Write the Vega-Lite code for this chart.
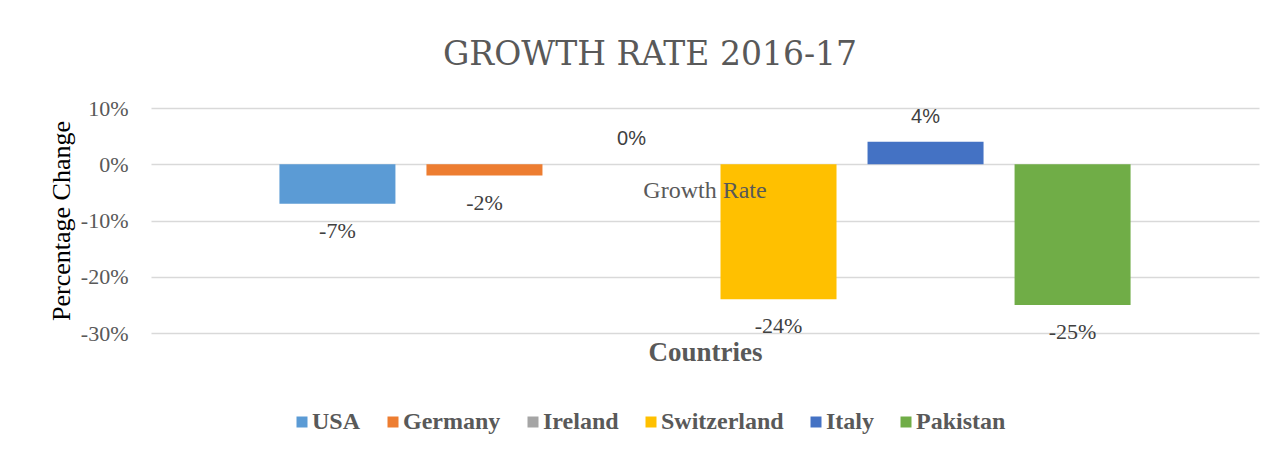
{
  "$schema": "https://vega.github.io/schema/vega-lite/v6.json",
  "autosize": "none",
  "padding": {"left": 151, "top": 108, "right": 28, "bottom": 122},
  "width": 1108,
  "height": 225,
  "background": "white",
  "title": {
    "text": "GROWTH RATE 2016-17",
    "font": "DejaVu Serif",
    "fontSize": 33,
    "fontWeight": "normal",
    "color": "#595959",
    "anchor": "middle",
    "frame": "group",
    "dx": -55,
    "offset": 25
  },
  "datasets": {
    "rates": [
      {"series": "Growth Rate", "country": "USA", "rate": -0.07},
      {"series": "Growth Rate", "country": "Germany", "rate": -0.02},
      {"series": "Growth Rate", "country": "Ireland", "rate": 0.0},
      {"series": "Growth Rate", "country": "Switzerland", "rate": -0.24},
      {"series": "Growth Rate", "country": "Italy", "rate": 0.04},
      {"series": "Growth Rate", "country": "Pakistan", "rate": -0.25}
    ],
    "cats": [
      {"series": "Growth Rate", "rate": 0}
    ]
  },
  "encoding": {
    "x": {
      "field": "series",
      "type": "nominal",
      "scale": {"paddingOuter": 0.128, "paddingInner": 0},
      "axis": {
        "labels": false,
        "ticks": false,
        "domain": false,
        "title": "Countries",
        "titleFont": "Liberation Serif",
        "titleFontSize": 27,
        "titleFontWeight": "bold",
        "titleColor": "#595959",
        "titlePadding": 6
      }
    },
    "y": {
      "field": "rate",
      "type": "quantitative",
      "scale": {"domain": [-0.3, 0.1], "nice": false, "zero": true},
      "axis": {
        "values": [-0.3, -0.2, -0.1, 0, 0.1],
        "format": ".0%",
        "labelExpr": "replace(datum.label, '\u2212', '-')",
        "grid": true,
        "gridColor": "#D9D9D9",
        "gridWidth": 1.5,
        "domain": false,
        "ticks": false,
        "labelFont": "Liberation Serif",
        "labelFontSize": 22,
        "labelColor": "#595959",
        "labelPadding": 23,
        "title": "Percentage Change",
        "titleFont": "Liberation Serif",
        "titleFontSize": 26,
        "titleFontWeight": "normal",
        "titleColor": "#000000",
        "titlePadding": 6
      }
    }
  },
  "layer": [
    {
      "data": {"name": "rates"},
      "mark": {"type": "bar"},
      "encoding": {
        "xOffset": {
          "field": "country",
          "type": "nominal",
          "sort": ["USA", "Germany", "Ireland", "Switzerland", "Italy", "Pakistan"],
          "scale": {"paddingInner": 0.211, "paddingOuter": 0.1055}
        },
        "color": {
          "field": "country",
          "type": "nominal",
          "sort": ["USA", "Germany", "Ireland", "Switzerland", "Italy", "Pakistan"],
          "scale": {
            "domain": ["USA", "Germany", "Ireland", "Switzerland", "Italy", "Pakistan"],
            "range": ["#5B9BD5", "#ED7D31", "#A5A5A5", "#FFC000", "#4472C4", "#70AD47"]
          },
          "legend": {
            "orient": "none",
            "legendX": 139,
            "legendY": 302,
            "direction": "horizontal",
            "title": null,
            "symbolType": "square",
            "symbolSize": 121,
            "symbolStrokeWidth": 0,
            "symbolOpacity": 1,
            "labelFont": "Liberation Serif",
            "labelFontWeight": "bold",
            "labelFontSize": 24,
            "labelColor": "#595959",
            "labelOffset": -2,
            "columnPadding": 20,
            "padding": 0,
            "labelLimit": 300
          }
        }
      }
    },
    {
      "data": {"name": "rates"},
      "transform": [{"filter": "datum.rate < 0"}],
      "mark": {
        "type": "text",
        "font": "Liberation Serif",
        "fontSize": 22,
        "color": "#404040",
        "baseline": "middle",
        "dy": 27,
        "text": {"expr": "replace(format(datum.rate, '.0%'), '\u2212', '-')"}
      },
      "encoding": {
        "xOffset": {
          "field": "country",
          "type": "nominal",
          "sort": ["USA", "Germany", "Ireland", "Switzerland", "Italy", "Pakistan"]
        }
      }
    },
    {
      "data": {"name": "rates"},
      "transform": [{"filter": "datum.rate >= 0"}],
      "mark": {"type": "text", "font": "Liberation Sans", "fontSize": 20, "color": "#404040", "baseline": "middle", "dy": -25},
      "encoding": {
        "xOffset": {
          "field": "country",
          "type": "nominal",
          "sort": ["USA", "Germany", "Ireland", "Switzerland", "Italy", "Pakistan"]
        },
        "text": {"field": "rate", "type": "quantitative", "format": ".0%"}
      }
    },
    {
      "data": {"name": "cats"},
      "mark": {"type": "text", "font": "Liberation Serif", "fontSize": 24, "color": "#595959", "baseline": "middle", "dy": 27},
      "encoding": {
        "text": {"field": "series", "type": "nominal"}
      }
    }
  ],
  "config": {
    "view": {"stroke": null}
  }
}
